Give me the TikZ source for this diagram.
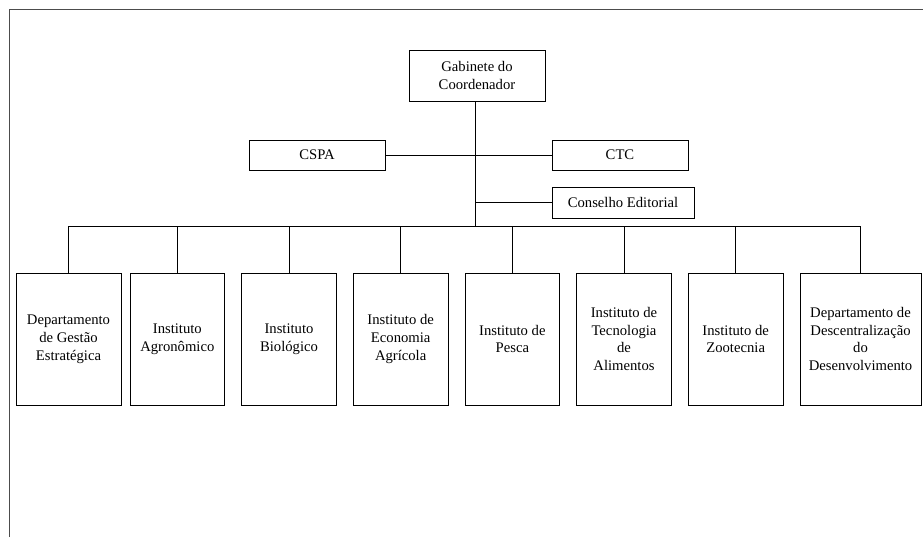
\documentclass[tikz,border=0pt]{standalone}
\usepackage{fontspec}
\setmainfont{Liberation Serif}
\usepackage{tikz}
\usetikzlibrary{positioning}
\newcommand*\orgfont{\fontsize{11pt}{13.4pt}\selectfont}
\tikzset{
	orgbox/.style={
		rectangle,
		draw=black, line width=0.6pt,
		align=center,
		inner sep=2pt, outer sep=0pt,
		font=\orgfont},
	topbox/.style={
		orgbox,
		minimum width=102pt,
		minimum height=22.5pt},
	unitbox/.style={
		orgbox,
		minimum width=71pt,
		minimum height=99pt},
	link/.style={draw, line width=0.6pt},
	frameline/.style={draw=black!70, line width=0.6pt},
}

\begin{document}
\begin{tikzpicture}
[x=0.75pt, y=-0.75pt,
node distance=12.75pt]
\useasboundingbox (0,0) rectangle (923,537);
\draw[frameline] (9.5,537) -- (9.5,9.5) -- (923,9.5);
% top of the chart
\node[orgbox, minimum width=102pt, minimum height=38.25pt] (gab) at (477,75.5) {Gabinete do\\Coordenador};
\node[topbox] (cspa) at (317,155) {CSPA};
\node[topbox] (ctc) at (620,155) {CTC};
\node[orgbox, minimum width=106.5pt, minimum height=23.25pt] (ce) at (623,202.5) {Conselho Editorial};
\coordinate (bus) at (475,226);
% units
\node[unitbox, minimum width=78.75pt] (dge) at (68.5,339) {Departamento\\de Gestão\\Estratégica};
\node[unitbox, right=6.75pt of dge] (iac) {Instituto\\Agronômico};
\node[unitbox, right=of iac] (ib) {Instituto\\Biológico};
\node[unitbox, right=of ib] (iea) {Instituto de\\Economia\\Agrícola};
\node[unitbox, right=of iea] (ip) {Instituto de\\Pesca};
\node[unitbox, right=of ip] (ital) {Instituto de\\Tecnologia\\de\\Alimentos};
\node[unitbox, right=of ital] (iz) {Instituto de\\Zootecnia};
\node[unitbox, minimum width=90.75pt, right=of iz] (ddd) {Departamento de\\Descentralização\\do\\Desenvolvimento};
% connectors
\draw[link] (bus |- gab.south) -- (bus);
\draw[link] (cspa.east) -- (ctc.west);
\draw[link] (ce.west) -- (ce.west -| bus);
\draw[link] (dge.north |- bus) -- (ddd.north |- bus);
\foreach \u in {dge,iac,ib,iea,ip,ital,iz,ddd}
	\draw[link] (\u.north) -- (\u.north |- bus);
\end{tikzpicture}
\end{document}
